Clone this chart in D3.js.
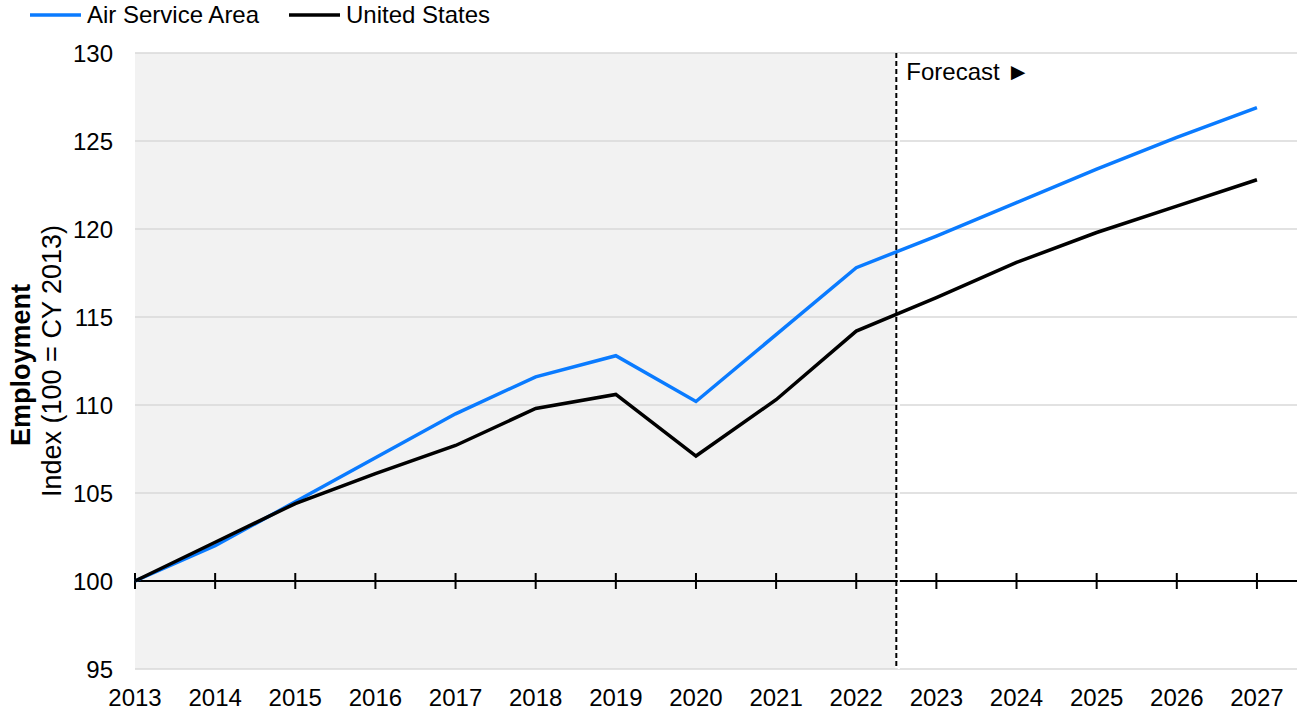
<!DOCTYPE html>
<html><head><meta charset="utf-8">
<script src="https://cdn.jsdelivr.net/npm/d3@7"></script>
<style>body{margin:0;background:#fff;}svg{display:block;font-family:"Liberation Sans",Arial,sans-serif;}</style>
</head><body>
<svg id="c" width="1298" height="712"></svg>
<script>
const years = [2013,2014,2015,2016,2017,2018,2019,2020,2021,2022,2023,2024,2025,2026,2027];
const airServiceArea = [100,102.0,104.5,107.0,109.5,111.6,112.8,110.2,114.0,117.8,119.6,121.5,123.4,125.2,126.9];
const unitedStates = [100,102.2,104.4,106.1,107.7,109.8,110.6,107.1,110.3,114.2,116.1,118.1,119.8,121.3,122.8];
const yTicks = [95,100,105,110,115,120,125,130];
const seriesNames = ["Air Service Area","United States"];
const seriesColors = ["#0a7bff","#000000"];
const forecastStart = 2022.5;

const svg = d3.select("#c");
const x = d3.scaleLinear().domain([2013, 2027.5]).range([135, 1297]);
const y = d3.scaleLinear().domain([95, 130]).range([669, 53]);
const FS = 24;

// shaded history
svg.append("rect").attr("x", x(2013)).attr("y", y(130))
  .attr("width", x(forecastStart) - x(2013) - 1).attr("height", y(95) - y(130))
  .attr("fill", "#f2f2f2");

// gridlines
svg.append("g").selectAll("line").data(yTicks.filter(d => d !== 100)).join("line")
  .attr("x1", x(2013)).attr("x2", x(2027.5))
  .attr("y1", d => y(d)).attr("y2", d => y(d))
  .attr("stroke", "#d9d9d9").attr("stroke-width", 1.5);

// y labels
svg.append("g").selectAll("text").data(yTicks).join("text")
  .attr("x", 113).attr("y", d => y(d)).attr("dy", "0.36em")
  .attr("text-anchor", "end").attr("font-size", FS).attr("fill", "#000")
  .text(d => d);

// x axis at 100
const xAxis = svg.append("g").attr("transform", `translate(0,${y(100)})`);
xAxis.append("line").attr("x1", x(2013)).attr("x2", x(2027.5))
  .attr("stroke", "#000").attr("stroke-width", 2);
xAxis.selectAll("line.t").data(years).join("line").attr("class","t")
  .attr("x1", d => x(d)).attr("x2", d => x(d)).attr("y1", -8).attr("y2", 8)
  .attr("stroke", "#000").attr("stroke-width", 2);

// x labels
svg.append("g").selectAll("text").data(years).join("text")
  .attr("x", d => x(d)).attr("y", 706).attr("text-anchor", "middle")
  .attr("font-size", FS).attr("fill", "#000").text(d => d);

// forecast divider
svg.append("line").attr("x1", x(forecastStart)+2.5).attr("x2", x(forecastStart)+2.5)
  .attr("y1", y(130)).attr("y2", y(95)).attr("stroke", "#fff").attr("stroke-width", 2);
svg.append("line").attr("x1", x(forecastStart)).attr("x2", x(forecastStart))
  .attr("y1", y(130)).attr("y2", y(95)).attr("stroke", "#000").attr("stroke-width", 2)
  .attr("stroke-dasharray", "5,3");
svg.append("text").attr("x", x(forecastStart) + 10).attr("y", 80)
  .attr("font-size", FS).attr("fill", "#000").text("Forecast \u25BA");

// lines
const line = d3.line().x((d,i) => x(years[i])).y(d => y(d));
[airServiceArea, unitedStates].forEach((s, k) => {
  svg.append("path").datum(s).attr("d", line).attr("fill", "none")
    .attr("stroke", seriesColors[k]).attr("stroke-width", 3.5).attr("stroke-linejoin", "miter");
});

// y axis title
svg.append("text").attr("transform", `translate(30,365) rotate(-90)`)
  .attr("text-anchor", "middle").attr("font-size", 27).attr("font-weight", "bold")
  .attr("fill", "#000").text("Employment");
svg.append("text").attr("transform", `translate(61,361) rotate(-90)`)
  .attr("text-anchor", "middle").attr("font-size", 27)
  .attr("fill", "#000").text("Index (100 = CY 2013)");

// legend
const legX = [30, 289];
seriesNames.forEach((n, k) => {
  svg.append("line").attr("x1", legX[k]).attr("x2", legX[k] + 51).attr("y1", 15).attr("y2", 15)
    .attr("stroke", seriesColors[k]).attr("stroke-width", 3.5);
  svg.append("text").attr("x", legX[k] + 57).attr("y", 23).attr("font-size", FS)
    .attr("fill", "#000").text(n);
});
</script>
</body></html>
